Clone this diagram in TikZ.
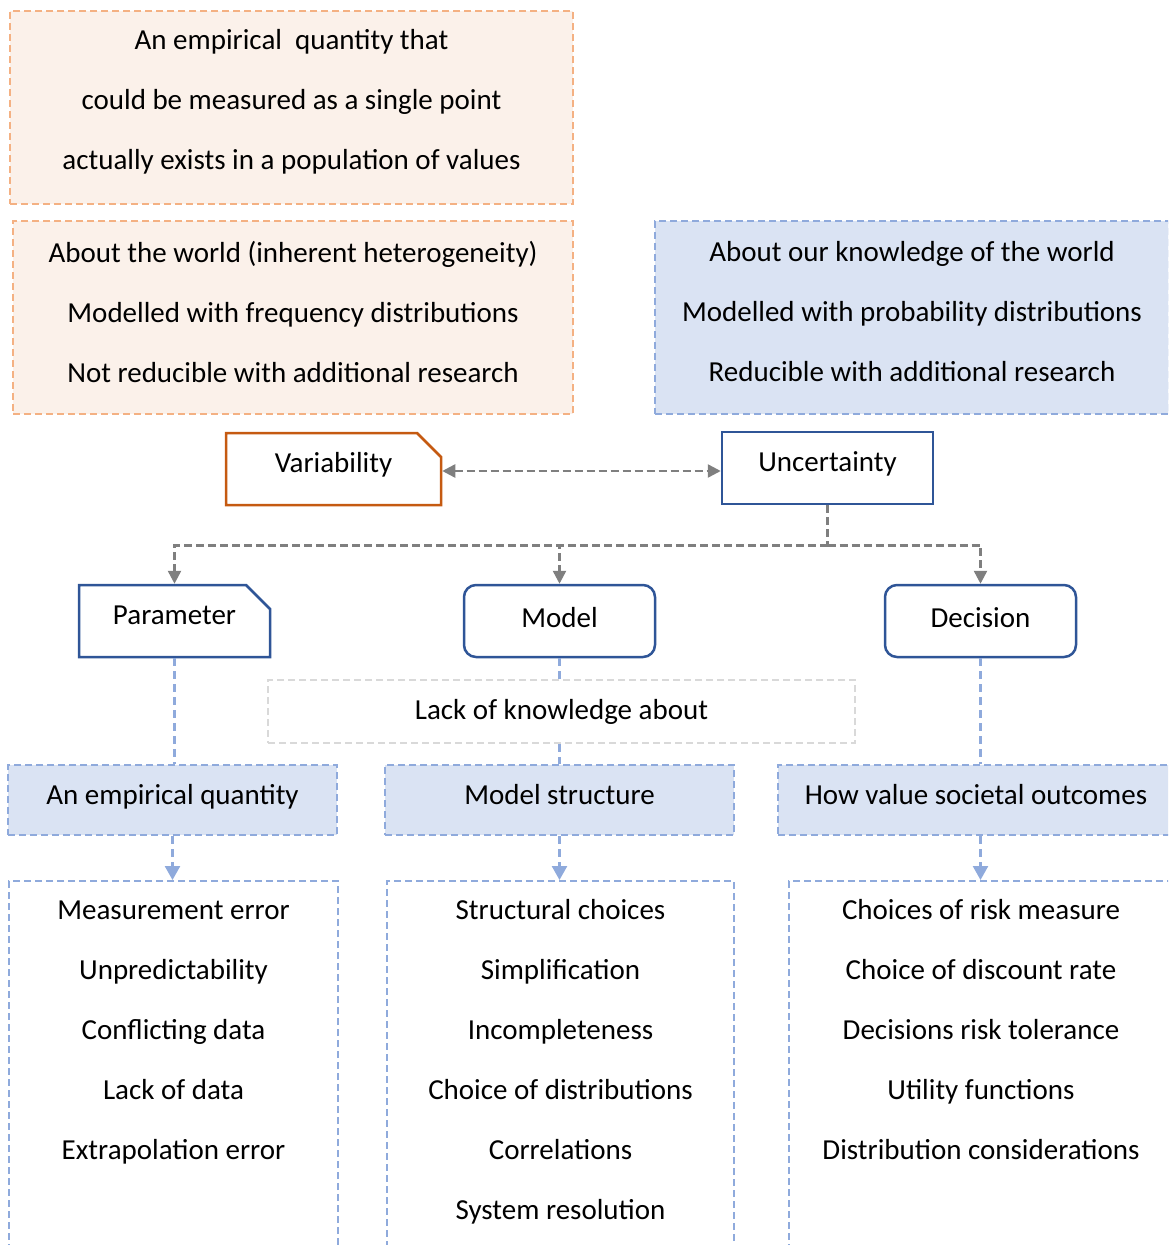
\documentclass[tikz,border=0pt]{standalone}
\usepackage{fontspec}
\setmainfont{Carlito}
\usepackage{tikz}
\usetikzlibrary{positioning,arrows.meta,shapes.misc}

\definecolor{orgfill}{HTML}{FBF1EA}
\definecolor{orgline}{HTML}{F4B183}
\definecolor{orgdark}{HTML}{C55A11}
\definecolor{bluefill}{HTML}{DAE3F3}
\definecolor{blueline}{HTML}{8FAADC}
\definecolor{bluedark}{HTML}{2F5597}
\definecolor{lackline}{HTML}{D9D9D9}
\definecolor{arrowgray}{HTML}{7F7F7F}

\begin{document}
\begin{tikzpicture}[x=1pt,y=1pt,yscale=-1,xscale=1,
  txt/.style={font=\fontsize{29}{60}\selectfont, align=center, inner sep=0pt},
  lift/.style={text height=21pt, text depth=#1},
  lift/.default=14pt,
  orgnote/.style={txt, draw=orgline, fill=orgfill, line width=2pt, dash pattern=on 7pt off 4pt},
  bluenote/.style={txt, draw=blueline, fill=bluefill, line width=2pt, dash pattern=on 7pt off 4pt},
  headbox/.style={txt, draw, fill=white, line width=2.5pt, minimum width=#1, minimum height=72pt},
  snipbox/.style={chamfered rectangle, chamfered rectangle corners=north east,
    chamfered rectangle xsep=12pt, chamfered rectangle ysep=12pt},
  lackbox/.style={txt, draw=lackline, line width=2pt, dash pattern=on 7pt off 4pt,
    minimum width=587pt, minimum height=63pt},
  listbox/.style={draw=blueline, line width=2pt, dash pattern=on 7pt off 4pt,
    minimum height=420pt, anchor=north, inner sep=0pt},
  grayline/.style={draw=arrowgray, line width=2.5pt, dash pattern=on 8pt off 4pt},
  grayarrow/.style={grayline, arrows={-Triangle[length=13pt,width=13pt]}},
  bluelink/.style={draw=blueline, line width=2.5pt, dash pattern=on 8pt off 5pt},
  bluearrow/.style={bluelink, arrows={-Triangle[length=14pt,width=15pt]}}]
\useasboundingbox (0,0) rectangle (1168,1245);
\clip (0,0) rectangle (1168,1245);

%Shape: top notes
\node[orgnote, minimum width=563pt, minimum height=193pt] (pop) at (291.5,107.5) {};
\node[orgnote, minimum width=560pt, minimum height=193pt] (world) at (293,317.5) {};
\node[bluenote, minimum width=514pt, minimum height=193pt] (knowl) at (912,317.5) {};
% Text Node
\node[txt] (poptext) at (291.5,102)
  {An empirical\ \ quantity that\\could be measured as a single point\\actually exists in a population of values};
\node[txt] (worldtext) at (293,312)
  {About the world (inherent heterogeneity)\\Modelled with frequency distributions\\Not reducible with additional research};
\node[txt] (knowltext) at (912,312)
  {About our knowledge of the world\\Modelled with probability distributions\\Reducible with additional research};

%Shape: main boxes
\node[headbox=215pt, snipbox, lift, draw=orgdark] (var) at (333.5,469) {Variability};
\node[headbox=211pt, lift, draw=bluedark] (unc) at (827.5,468) {Uncertainty};
\node[headbox=191pt, snipbox, lift, draw=bluedark] (par) at (174.5,621) {Parameter};
\node[headbox=191pt, lift=9pt, draw=bluedark, rounded corners=12pt] (model) at (559.5,621) {Model};
\node[headbox=191pt, lift=9pt, draw=bluedark, rounded corners=12pt] (dec) at (980.5,621) {Decision};

% Text Node
\node[lackbox] (lack) at (561.5,711.5) {Lack of knowledge about};

%Shape: blue headers
\node[bluenote, lift=12pt, minimum width=329pt, minimum height=70pt] (emp) at (172.5,800) {An empirical quantity};
\node[bluenote, lift=12pt, minimum width=349pt, minimum height=70pt] (mstr) at (559.5,800) {Model structure};
\node[bluenote, lift=12pt, minimum width=396pt, minimum height=70pt] (how) at (976,800) {How value societal outcomes};

%Shape: list boxes
\node[listbox, minimum width=329pt] (plist) at (173.5,880) {};
\node[listbox, minimum width=347pt] (mlist) at (560.5,880) {};
\node[listbox, minimum width=384pt] (dlist) at (981,880) {};

% Text Node
\node[txt, anchor=north] (ptext) at (173.5,901)
  {Measurement error\\Unpredictability\\Conflicting data\\Lack of data\\Extrapolation error};
\node[txt, anchor=north] (mtext) at (560.5,899)
  {Structural choices\\Simplification\\Incompleteness\\Choice of distributions\\Correlations\\System resolution};
\node[txt, anchor=north] (dtext) at (981,899)
  {Choices of risk measure\\Choice of discount rate\\Decisions risk tolerance\\Utility functions\\Distribution considerations};

%Straight Lines
\draw[grayline, arrows={Triangle[length=13pt,width=13pt]-Triangle[length=13pt,width=13pt]}]
  (var.east |- 0,471) -- (unc.west |- 0,471);
\draw[grayline] (unc.south) -- ++(0,40) coordinate (split);
\draw[grayarrow] (split) -| (par.north);
\draw[grayarrow] (split) -| (model.north);
\draw[grayarrow] (split) -| (dec.north);

\draw[bluelink] (par.south) -- (par.south |- emp.north);
\draw[bluelink] (model.south) -- (model.south |- lack.north);
\draw[bluelink] (mstr.north |- lack.south) -- (mstr.north);
\draw[bluelink] (dec.south) -- (dec.south |- how.north);

\draw[bluearrow] (emp.south) -- (emp.south |- plist.north);
\draw[bluearrow] (mstr.south) -- (mstr.south |- mlist.north);
\draw[bluearrow] (dec.south |- how.south) -- (dec.south |- dlist.north);
\end{tikzpicture}
\end{document}
